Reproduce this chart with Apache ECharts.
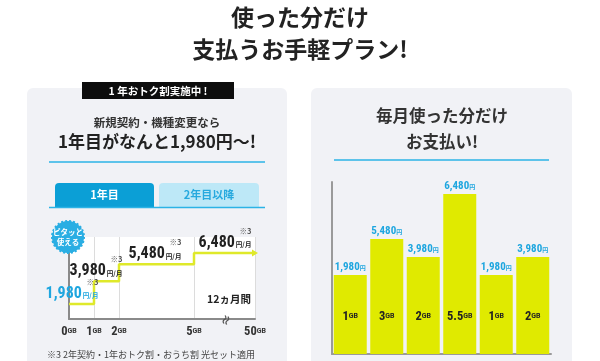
<!DOCTYPE html>
<html><head><meta charset="utf-8">
<script src="https://cdn.jsdelivr.net/npm/echarts@6/dist/echarts.min.js"></script>
<style>html,body{margin:0;padding:0;background:#fff}#c{width:600px;height:361px}</style>
</head><body><div id="c"></div><script>
// ---- data ----
const stepGB = [0, 1, 2, 5, 50];
const stepPrice = [1980, 3980, 5480, 6480, 6480];
const stepTickLabels = ['0', '1', '2', '5', '50'];
const barCats = ['m1', 'm2', 'm3', 'm4', 'm5', 'm6'];
const barGB = [1, 3, 2, 5.5, 1, 2];
const barPrice = [1980, 5480, 3980, 6480, 1980, 3980];

// ---- styling helpers (not data) ----
const stepLabelOffsets = [[3, 0], [2, 0], [36, 0], [31, 0]];
const FONT = '"Noto Sans CJK JP", "Noto Sans", sans-serif';
const NUM = '"Liberation Sans Narrow", "Roboto Condensed", Roboto, sans-serif';
const BLUE = '#1ea6df';
const LIME = '#e0ea00';
const LINE = '#dfe92a';
const fmt = v => v.toLocaleString('en-US');

const chart = echarts.init(document.getElementById('c'), null, {renderer: 'canvas'});

const stepData = stepGB.map((g, i) => {
  const item = {value: [g, stepPrice[i]]};
  if (i < stepLabelOffsets.length) {
    const col = i === 0 ? BLUE : '#222';
    item.label = {
      show: true, position: 'top', distance: 2, offset: stepLabelOffsets[i],
      formatter: '{s|※3}\n{n|' + fmt(stepPrice[i]) + '}{u|円/月}',
      rich: {
        s: {fontSize: 7.5, fontWeight: 'bold', color: '#555', align: 'right', lineHeight: 8, fontFamily: FONT},
        n: {fontSize: 16, fontWeight: 'bold', color: col, fontFamily: NUM, lineHeight: 16},
        u: {fontSize: 6.5, fontWeight: 'bold', color: col, fontFamily: FONT, lineHeight: 16, padding: [4, 0, 0, 1]}
      }
    };
  } else {
    item.symbol = 'triangle';
    item.symbolSize = [7, 6];
    item.symbolRotate = -90;
    item.itemStyle = {color: LINE};
  }
  return item;
});

const option = {
  animation: false,
  textStyle: {fontFamily: FONT},
  graphic: [
    {type: 'rect', z: -10, shape: {x: 27, y: 88, width: 260, height: 290, r: 6}, style: {fill: '#f1f2f6'}},
    {type: 'rect', z: -10, shape: {x: 311, y: 88, width: 261, height: 290, r: 6}, style: {fill: '#f1f2f6'}},
    {type: 'text', left: 'center', top: 6, style: {text: '使った分だけ', font: 'bold 23px ' + FONT, fill: '#222'}},
    {type: 'text', left: 'center', top: 38, style: {text: '支払うお手軽プラン!', font: 'bold 23px ' + FONT, fill: '#222'}},
    // badge
    {type: 'rect', shape: {x: 82, y: 82, width: 152, height: 17}, style: {fill: '#0d0d0d'}},
    {type: 'text', x: 158, y: 91, style: {text: '1 年おトク割実施中 !', font: 'bold 10.5px ' + FONT, fill: '#fff', align: 'center', verticalAlign: 'middle'}},
    {type: 'text', x: 157, y: 123, style: {text: '新規契約・機種変更なら', font: 'bold 11.5px ' + FONT, fill: '#333', align: 'center', verticalAlign: 'middle'}},
    {type: 'text', x: 157, y: 142, style: {text: '1年目がなんと1,980円〜!', font: 'bold 17px ' + FONT, fill: '#222', align: 'center', verticalAlign: 'middle'}},
    {type: 'line', shape: {x1: 49, y1: 162, x2: 265, y2: 162}, style: {stroke: '#2bb3e6', lineWidth: 1.5}},
    // tabs
    {type: 'rect', shape: {x: 55, y: 183, width: 99, height: 24, r: [4, 4, 0, 0]}, style: {fill: '#0b9fd6'}},
    {type: 'rect', shape: {x: 159, y: 183, width: 100, height: 24, r: [4, 4, 0, 0]}, style: {fill: '#bde8f7'}},
    {type: 'text', x: 104.5, y: 195, style: {text: '1年目', font: 'bold 11px ' + FONT, fill: '#fff', align: 'center', verticalAlign: 'middle'}},
    {type: 'text', x: 209, y: 195, style: {text: '2年目以降', font: 'bold 11px ' + FONT, fill: '#27a9de', align: 'center', verticalAlign: 'middle'}},
    {type: 'line', shape: {x1: 49, y1: 207.5, x2: 265, y2: 207.5}, style: {stroke: '#2bb3e6', lineWidth: 1.5}},
    // badge circle
    {type: 'circle', z: 50, shape: {cx: 68, cy: 237, r: 16}, style: {fill: '#2aaee3', stroke: '#2aaee3', lineWidth: 2, lineDash: [2, 2]}},
    {type: 'text', z: 51, x: 68, y: 237, style: {text: 'ピタッと\n使える', font: 'bold 7.5px ' + FONT, fill: '#fff', align: 'center', verticalAlign: 'middle', lineHeight: 10}},
    {type: 'text', x: 229, y: 299, style: {text: '12ヵ月間', font: 'bold 10.5px ' + FONT, fill: '#222', align: 'center', verticalAlign: 'middle'}},
    {type: 'text', z: 60, x: 226, y: 320, rotation: 1.2, style: {text: '≈', font: 'bold 12px ' + FONT, fill: '#555', align: 'center', verticalAlign: 'middle'}},
    {type: 'text', x: 151, y: 355, style: {text: '※3 2年契約・1年おトク割・おうち割 光セット適用', font: '9px ' + FONT, fill: '#444', align: 'center', verticalAlign: 'middle'}},
    // right panel heading
    {type: 'text', x: 442, y: 116, style: {text: '毎月使った分だけ', font: 'bold 16.5px ' + FONT, fill: '#333', align: 'center', verticalAlign: 'middle'}},
    {type: 'text', x: 442, y: 142, style: {text: 'お支払い!', font: 'bold 16.5px ' + FONT, fill: '#333', align: 'center', verticalAlign: 'middle'}},
    {type: 'line', shape: {x1: 334, y1: 160, x2: 549, y2: 160}, style: {stroke: '#2bb3e6', lineWidth: 1.5}}
  ],
  grid: [
    {left: 69, right: 345, top: 237, bottom: 42, show: true, backgroundColor: '#fff', borderWidth: 0},
    {left: 332, width: 219, top: 182, bottom: 7}
  ],
  xAxis: [
    {
      gridIndex: 0, type: 'value', min: 0, max: 50,
      breaks: [{start: 6.24, end: 48.8, gap: 0}],
      breakArea: {show: false},
      axisLine: {show: true, onZero: false, lineStyle: {color: '#8a8a8a', width: 2}},
      axisTick: {show: false, customValues: stepGB},
      splitLine: {show: true, lineStyle: {color: '#dcdcdc', width: 1}},
      axisLabel: {
        show: true, customValues: stepGB, margin: 6,
        formatter: v => '{n|' + stepTickLabels[stepGB.indexOf(v)] + '}{u|GB}',
        rich: {
          n: {fontSize: 12.5, fontWeight: 'bold', color: '#333', fontFamily: NUM},
          u: {fontSize: 7, fontWeight: 'bold', color: '#333', fontFamily: 'Roboto, sans-serif'}
        }
      }
    },
    {
      gridIndex: 1, type: 'category', data: barCats,
      axisLine: {show: true, onZero: false, lineStyle: {color: '#9a9a9a', width: 2}},
      axisTick: {show: false}, axisLabel: {show: false}
    }
  ],
  yAxis: [
    {
      gridIndex: 0, type: 'value', min: 650, max: 7890,
      axisLine: {show: true, onZero: false, lineStyle: {color: '#8a8a8a', width: 2}},
      axisTick: {show: false}, axisLabel: {show: false}, splitLine: {show: false}
    },
    {
      gridIndex: 1, type: 'value', min: -3.39, max: 6.17, startValue: -3.39,
      axisLine: {show: true, onZero: false, lineStyle: {color: '#9a9a9a', width: 2}},
      axisTick: {show: false}, axisLabel: {show: false}, splitLine: {show: false}
    }
  ],
  series: [
    {
      type: 'line', xAxisIndex: 0, yAxisIndex: 0, step: 'end', clip: false,
      data: stepData, showSymbol: true, symbol: 'circle', symbolSize: 0.5,
      itemStyle: {color: 'rgba(0,0,0,0)'},
      lineStyle: {color: LINE, width: 2.5}, z: 5
    },
    {
      type: 'bar', xAxisIndex: 1, yAxisIndex: 1, data: barGB, barWidth: 33,
      itemStyle: {color: LIME},
      label: {
        show: true, position: 'insideBottom', distance: 31,
        formatter: p => '{n|' + p.value + '}{u|GB}',
        rich: {
          n: {fontSize: 12.5, fontWeight: 'bold', color: '#222', fontFamily: NUM},
          u: {fontSize: 7, fontWeight: 'bold', color: '#222', fontFamily: 'Roboto, sans-serif'}
        }
      }
    },
    {
      type: 'bar', xAxisIndex: 1, yAxisIndex: 1, data: barGB, barWidth: 33, barGap: '-100%',
      itemStyle: {color: 'rgba(0,0,0,0)'}, silent: true,
      label: {
        show: true, position: 'top', distance: 2,
        formatter: p => '{n|' + fmt(barPrice[p.dataIndex]) + '}{u|円}',
        rich: {
          n: {fontSize: 11, fontWeight: 'bold', color: BLUE, fontFamily: NUM},
          u: {fontSize: 6, fontWeight: 'bold', color: BLUE, fontFamily: FONT}
        }
      }
    }
  ]
};
chart.setOption(option);
</script></body></html>
